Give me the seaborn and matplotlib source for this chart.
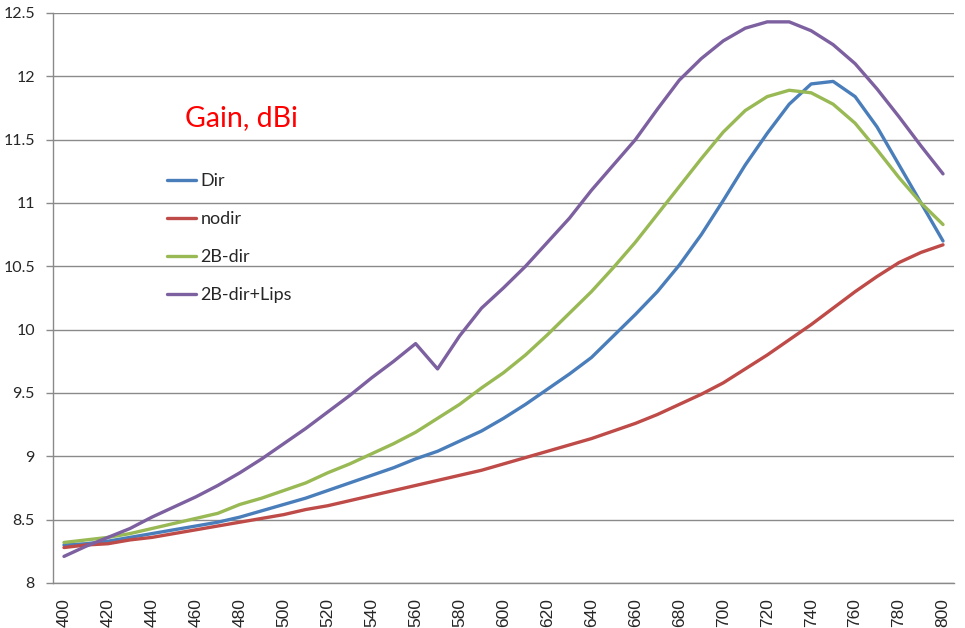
import numpy as np
import pandas as pd
import matplotlib
matplotlib.use("Agg")
import matplotlib.pyplot as plt
import seaborn as sns

# frequency, MHz
freq = list(range(400, 801, 10))

dir_gain = [8.30, 8.31, 8.33, 8.36, 8.39, 8.42, 8.45, 8.48, 8.52, 8.57,
            8.62, 8.67, 8.73, 8.79, 8.85, 8.91, 8.98, 9.04, 9.12, 9.20,
            9.30, 9.41, 9.53, 9.65, 9.78, 9.95, 10.12, 10.30, 10.51, 10.75,
            11.02, 11.30, 11.55, 11.78, 11.94, 11.96, 11.84, 11.60, 11.30, 11.00,
            10.70]
nodir_gain = [8.28, 8.30, 8.31, 8.34, 8.36, 8.39, 8.42, 8.45, 8.48, 8.51,
              8.54, 8.58, 8.61, 8.65, 8.69, 8.73, 8.77, 8.81, 8.85, 8.89,
              8.94, 8.99, 9.04, 9.09, 9.14, 9.20, 9.26, 9.33, 9.41, 9.49,
              9.58, 9.69, 9.80, 9.92, 10.04, 10.17, 10.30, 10.42, 10.53, 10.61,
              10.67]
dir2b_gain = [8.32, 8.34, 8.36, 8.39, 8.43, 8.47, 8.51, 8.55, 8.62, 8.67,
              8.73, 8.79, 8.87, 8.94, 9.02, 9.10, 9.19, 9.30, 9.41, 9.54,
              9.66, 9.80, 9.96, 10.13, 10.30, 10.49, 10.69, 10.91, 11.13, 11.35,
              11.56, 11.73, 11.84, 11.89, 11.87, 11.78, 11.63, 11.42, 11.20, 11.00,
              10.83]
lips_gain = [8.21, 8.29, 8.36, 8.43, 8.52, 8.60, 8.68, 8.77, 8.87, 8.98,
             9.10, 9.22, 9.35, 9.48, 9.62, 9.75, 9.89, 9.69, 9.95, 10.17,
             10.33, 10.50, 10.69, 10.88, 11.10, 11.30, 11.50, 11.74, 11.97, 12.14,
             12.28, 12.38, 12.43, 12.43, 12.36, 12.25, 12.10, 11.90, 11.68, 11.45,
             11.23]

series_names = ["Dir", "nodir", "2B-dir", "2B-dir+Lips"]
colors = ["#4A7EBB", "#BE4B48", "#98B954", "#7D60A0"]

df = pd.DataFrame({
    "freq": freq * 4,
    "gain": dir_gain + nodir_gain + dir2b_gain + lips_gain,
    "series": sum([[n] * len(freq) for n in series_names], []),
})

sns.set_style("white")
plt.rcParams["font.family"] = ["Lato", "DejaVu Sans"]

fig = plt.figure(figsize=(9.65, 6.28), dpi=100)
ax = fig.add_axes([53 / 965, 1 - 583 / 628, 901 / 965, 570 / 628])

sns.lineplot(data=df, x="freq", y="gain", hue="series", hue_order=series_names,
             palette=colors, linewidth=2.4, ax=ax)

ax.set_xlim(395, 805)
ax.set_ylim(8, 12.5)
yticks = np.arange(8, 12.51, 0.5)
ax.set_yticks(yticks)
ax.set_yticklabels([f"{v:g}" for v in yticks], fontsize=11.5)
ax.yaxis.grid(True, color="#8a8a8a", linewidth=1.0)
ax.set_axisbelow(True)

ax.set_xticks(freq[::2])
ax.set_xticklabels([str(f) for f in freq[::2]], rotation=90, fontsize=12.5,
                   family=["Liberation Sans", "DejaVu Sans"])
ax.set_xticks(np.arange(395, 806, 10), minor=True)
ax.tick_params(axis="x", which="major", length=0, pad=11)
ax.tick_params(axis="x", which="minor", length=6, color="#8a8a8a", width=1)
ax.tick_params(axis="y", which="major", length=5, color="#8a8a8a", width=1, pad=8,
               left=True)

for side in ["top", "right"]:
    ax.spines[side].set_visible(False)
for side in ["left", "bottom"]:
    ax.spines[side].set_color("#8a8a8a")
    ax.spines[side].set_linewidth(1.0)

ax.set_xlabel("")
ax.set_ylabel("")

# title-like label, placed in figure pixels
fig.text(185 / 965, 1 - 126 / 628, "Gain, dBi", color="#FF0000", fontsize=20.5,
         va="baseline")

leg = ax.legend(loc="upper left", bbox_to_anchor=((167 - 53) / 901, (583 - 173) / 570),
                frameon=False, fontsize=13, handlelength=1.6, handletextpad=0.25,
                labelspacing=1.22, borderpad=0, borderaxespad=0)
for line in leg.get_lines():
    line.set_linewidth(2.4)

fig.savefig("out.png", dpi=100)
